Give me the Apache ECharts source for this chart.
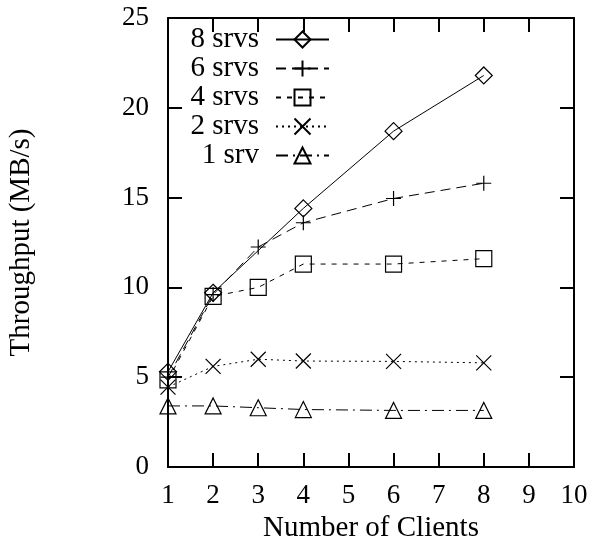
<!DOCTYPE html>
<html>
<head>
<meta charset="utf-8">
<script src="https://cdn.jsdelivr.net/npm/echarts@6/dist/echarts.min.js"></script>
<style>html,body{margin:0;padding:0;background:#fff}#c{width:592px;height:538px}</style>
</head>
<body>
<div id="c"></div>
<script>
const clients8 = [1, 2, 4, 6, 8];
const srv8 = [5.3, 9.7, 14.4, 18.7, 21.8];
const clients = [1, 2, 3, 4, 6, 8];
const srv6 = [5.0, 9.6, 12.25, 13.6, 14.95, 15.8];
const srv4 = [4.85, 9.5, 10.0, 11.3, 11.3, 11.6];
const srv2 = [4.45, 5.6, 6.0, 5.9, 5.88, 5.8];
const srv1 = [3.4, 3.4, 3.3, 3.2, 3.15, 3.15];
const xTicks = [1, 2, 3, 4, 5, 6, 7, 8, 9, 10];
const yTicks = [0, 5, 10, 15, 20, 25];

const FONT = 'Liberation Serif';
const pairs = (xs, ys) => xs.map((x, i) => [x, ys[i]]);

const PLUS = 'path://M0,5L10,5M5,0L5,10';
const CROSS = 'path://M0,0L10,10M10,0L0,10';

function mk(name, data, symbol, size, dash) {
  return {
    name, type: 'line', data, symbol, symbolSize: size,
    showAllSymbol: true,
    itemStyle: { color: 'rgba(0,0,0,0)', borderColor: '#000', borderWidth: 1.2 },
    lineStyle: { color: '#000', width: 1, type: dash },
    emphasis: { disabled: true },
    z: 3
  };
}

const chart = echarts.init(document.getElementById('c'), null, { renderer: 'canvas' });
const axisCommon = {
  type: 'value',
  axisLine: { show: true, onZero: false, lineStyle: { color: '#000', width: 2 } },
  axisTick: { show: true, inside: true, length: 14, lineStyle: { color: '#000', width: 2 } },
  splitLine: { show: false },
};
chart.setOption({
  animation: false,
  backgroundColor: '#fff',
  grid: { left: 168, right: 18, top: 18, bottom: 71, containLabel: false, outerBoundsMode: 'none' },
  legend: {
    orient: 'vertical', right: 262, top: 25, padding: 0, align: 'right',
    itemWidth: 53, itemHeight: 20, itemGap: 0,
    textStyle: { fontFamily: FONT, fontSize: 29, color: '#000', padding: [0, 12, 0, 0] },
    data: ['8 srvs', '6 srvs', '4 srvs', '2 srvs', '1 srv']
  },
  xAxis: [
    Object.assign({}, axisCommon, {
      min: xTicks[0], max: xTicks[xTicks.length - 1], interval: 1, position: 'bottom',
      name: 'Number of Clients', nameLocation: 'middle', nameGap: 47,
      nameTextStyle: { fontFamily: FONT, fontSize: 29, color: '#000' },
      axisLabel: { fontFamily: FONT, fontSize: 27, color: '#000', margin: 15 }
    }),
    Object.assign({}, axisCommon, {
      min: xTicks[0], max: xTicks[xTicks.length - 1], interval: 1, position: 'top',
      axisLabel: { show: false }
    })
  ],
  yAxis: [
    Object.assign({}, axisCommon, {
      min: yTicks[0], max: yTicks[yTicks.length - 1], interval: 5, position: 'left',
      name: 'Throughput (MB/s)', nameLocation: 'middle', nameGap: 132, nameRotate: 90,
      nameTextStyle: { fontFamily: FONT, fontSize: 29, color: '#000' },
      axisLabel: { fontFamily: FONT, fontSize: 27, color: '#000', margin: 19 }
    }),
    Object.assign({}, axisCommon, {
      min: yTicks[0], max: yTicks[yTicks.length - 1], interval: 5, position: 'right',
      axisLabel: { show: false }
    })
  ],
  series: [
    mk('8 srvs', pairs(clients8, srv8), 'diamond', 17, 'solid'),
    mk('6 srvs', pairs(clients, srv6), PLUS, 15, [10, 6]),
    mk('4 srvs', pairs(clients, srv4), 'rect', 16, [5, 6]),
    mk('2 srvs', pairs(clients, srv2), CROSS, 15, [2, 4]),
    mk('1 srv', pairs(clients, srv1), 'triangle', 16, [12, 5, 2, 5])
  ]
});
</script>
</body>
</html>
